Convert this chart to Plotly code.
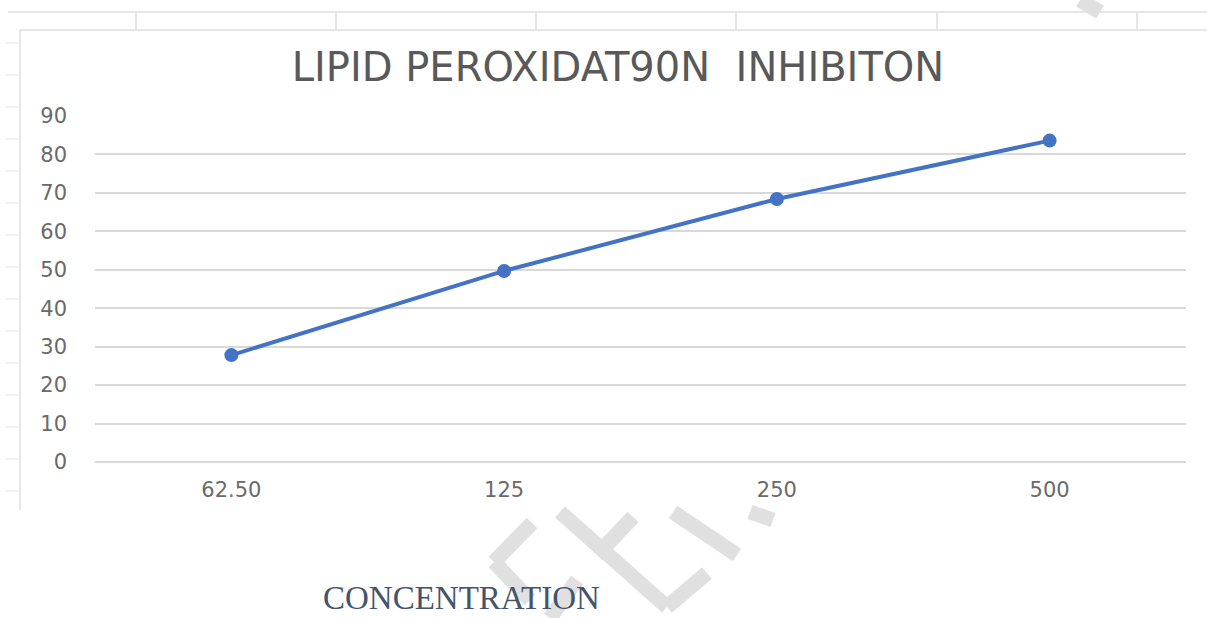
import plotly.graph_objects as go

# ---- data ----
concentrations = ["62.50", "125", "250", "500"]
inhibition = [27.8, 49.7, 68.4, 83.6]
y_ticks = [0, 10, 20, 30, 40, 50, 60, 70, 80, 90]
chart_title = "LIPID PEROXIDAT90N  INHIBITON"
x_caption = "CONCENTRATION"

W, H = 1207, 618
L, R, T, B = 95, 21, 116, 156
PW, PH = W - L - R, H - T - B


def px(x):
    return (x - L) / PW


def py(y):
    return (H - B - y) / PH


fig = go.Figure()
fig.add_trace(go.Scatter(
    x=concentrations, y=inhibition, mode="lines+markers",
    line=dict(color="#4472c4", width=4),
    marker=dict(color="#4472c4", size=14),
    showlegend=False, hoverinfo="x+y",
))

shapes = []
grey = "#e6e6e6"
# spreadsheet top row
shapes.append(dict(type="line", x0=px(8), x1=px(1207), y0=py(12), y1=py(12),
                   xref="paper", yref="paper", line=dict(color=grey, width=2)))
for xv in [136, 336, 536, 736, 937, 1137]:
    shapes.append(dict(type="line", x0=px(xv), x1=px(xv), y0=py(12), y1=py(30),
                       xref="paper", yref="paper", line=dict(color=grey, width=2)))
# chart frame (left and top borders)
shapes.append(dict(type="line", x0=px(20), x1=px(20), y0=py(30), y1=py(510),
                   xref="paper", yref="paper", line=dict(color=grey, width=2)))
shapes.append(dict(type="line", x0=px(20), x1=px(1207), y0=py(30), y1=py(30),
                   xref="paper", yref="paper", line=dict(color=grey, width=2)))
# spreadsheet row markers at left
for k in range(15):
    yv = 43 + 32 * k
    shapes.append(dict(type="line", x0=px(6), x1=px(18), y0=py(yv), y1=py(yv),
                       xref="paper", yref="paper", line=dict(color="#ececec", width=1.5)))
# faint watermark strokes
wm = "#e0e0e0"
segments = [
    ((532, 523), (494, 562)),
    ((494, 562), (530, 600)),
    ((560, 512), (667, 607)),
    ((667, 607), (707, 573)),
    ((633, 517), (597, 555)),
    ((673, 512), (737, 555)),
    ((750, 512), (773, 520)),
    ((577, 580), (550, 618)),
    ((1080, 0), (1100, 12)),
]
for (x0, y0), (x1, y1) in segments:
    shapes.append(dict(type="line", x0=px(x0), x1=px(x1), y0=py(y0), y1=py(y1),
                       xref="paper", yref="paper", line=dict(color=wm, width=15)))

fig.update_layout(
    width=W, height=H,
    margin=dict(l=L, r=R, t=T, b=B),
    paper_bgcolor="white", plot_bgcolor="white",
    shapes=shapes,
    title=dict(text=chart_title, xref="container", x=618 / W, xanchor="center",
               yref="container", y=1 - 67 / H, yanchor="middle",
               font=dict(family="DejaVu Sans", size=40, color="#595959")),
    xaxis=dict(type="category", range=[-0.5, 3.5], showgrid=False, showline=False,
               zeroline=False, ticks="", ticklabelstandoff=13,
               tickfont=dict(family="DejaVu Sans", size=21, color="#6a6a6a")),
    yaxis=dict(range=[0, 90], tickvals=y_ticks, showgrid=True, gridcolor="#d9d9d9",
               gridwidth=1.5, zeroline=True, zerolinecolor="#d9d9d9", zerolinewidth=1.5,
               showline=False, ticks="", ticklabelstandoff=27,
               tickfont=dict(family="DejaVu Sans", size=21, color="#6a6a6a")),
    annotations=[dict(text=x_caption, xref="paper", yref="paper",
                      x=px(461), y=py(598), xanchor="center", yanchor="middle",
                      showarrow=False,
                      font=dict(family="Liberation Serif", size=33, color="#44546a"))],
)

fig.write_html("out.html", config={"displayModeBar": False},
               post_script="document.body.style.margin='0';")
